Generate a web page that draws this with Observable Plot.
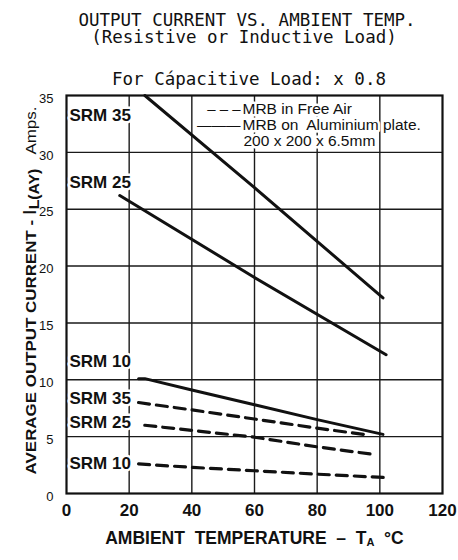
<!DOCTYPE html>
<html><head><meta charset="utf-8">
<script src="https://cdn.jsdelivr.net/npm/d3@7"></script>
<script src="https://cdn.jsdelivr.net/npm/@observablehq/plot@0.6"></script>
<style>
body{margin:0;background:#fff;}
#wrap{position:relative;width:458px;height:560px;overflow:hidden;background:#fff}
#head{position:relative;height:88px}
.t{position:absolute;font-family:"DejaVu Sans Mono",monospace;font-size:17.5px;line-height:16px;white-space:pre;transform:translateX(-50%);color:#111}
svg{display:block}
</style></head><body>
<div id="wrap"><div id="head"></div><div id="chart"></div></div>
<script>
// ---- text ----
const titleLines = ["OUTPUT CURRENT VS. AMBIENT TEMP.", "(Resistive or Inductive Load)", "For Cápacitive Load: x 0.8"];
const xLabel = "AMBIENT  TEMPERATURE  –  TA  °C";
const yLabel = "AVERAGE OUTPUT CURRENT - IL(AY)   Amps.";
const legendSolid = ["MRB on  Aluminium plate.", "200 x 200 x 6.5mm"];
const legendDashed = "MRB in Free Air";

// ---- ticks ----
const xTicks = [0, 20, 40, 60, 80, 100, 120];
const yTicks = [0, 5, 10, 15, 20, 25, 30, 35];

// ---- series (temperature °C, current A) ----
const seriesNames = ["SRM 35", "SRM 25", "SRM 10", "SRM 35", "SRM 25", "SRM 10"];
const seriesMount = ["plate", "plate", "plate", "air", "air", "air"];
const srm35PlateT = [25, 60, 101];
const srm35PlateI = [35, 26.9, 17.2];
const srm25PlateT = [17, 60, 102];
const srm25PlateI = [26.2, 19.0, 12.2];
const srm10PlateT = [23, 25, 40, 60, 80, 101];
const srm10PlateI = [10.1, 10.1, 9.1, 7.8, 6.5, 5.2];
const srm35AirT = [23, 40, 60, 80, 96];
const srm35AirI = [8.0, 7.35, 6.55, 5.75, 5.15];
const srm25AirT = [25, 40, 60, 80, 99];
const srm25AirI = [6.0, 5.55, 4.95, 4.1, 3.4];
const srm10AirT = [23, 40, 60, 80, 102];
const srm10AirI = [2.6, 2.3, 2.0, 1.7, 1.4];

const seriesT = [srm35PlateT, srm25PlateT, srm10PlateT, srm35AirT, srm25AirT, srm10AirT];
const seriesI = [srm35PlateI, srm25PlateI, srm10PlateI, srm35AirI, srm25AirI, srm10AirI];

const rows = seriesT.flatMap((ts, k) => ts.map((t, j) => ({id: k, name: seriesNames[k], mount: seriesMount[k], T: t, I: seriesI[k][j]})));

// label vertical offsets (px) relative to each series' first point
const labelDy = [20, -13, -17, -4, -3, 0];

// ---- title (HTML above the SVG) ----
const head = document.getElementById("head");
const titleCenters = [247, 244, 249];
const titleTops = [12, 29, 71];
titleLines.forEach((s, i) => {
  const d = document.createElement("div");
  d.className = "t";
  d.style.left = titleCenters[i] + "px";
  d.style.top = titleTops[i] + "px";
  d.textContent = s;
  head.appendChild(d);
});

const ink = "#111";
const halo = {stroke: "white", strokeWidth: 5};

const labelMarks = seriesNames.map((n, k) =>
  Plot.text([{I: seriesI[k][0], name: n}], {
    y: "I", text: "name", frameAnchor: "left", textAnchor: "start",
    dx: 3, dy: labelDy[k], fontSize: 17, fontWeight: "bold", fill: ink, ...halo
  })
);

const chart = Plot.plot({
  width: 458, height: 472,
  marginTop: 7, marginBottom: 67, marginLeft: 66, marginRight: 16,
  style: {fontFamily: "'Liberation Sans', Arial, sans-serif", background: "white", color: ink},
  x: {domain: [0, 120], label: null},
  y: {domain: [0, 35], label: null},
  marks: [
    Plot.gridX(xTicks.filter(t => t > 0 && t < 120), {stroke: "#1a1a1a", strokeOpacity: 1, strokeWidth: 1.4}),
    Plot.gridY(yTicks.filter(t => t > 0 && t < 35), {stroke: "#1a1a1a", strokeOpacity: 1, strokeWidth: 1.4}),
    Plot.frame({stroke: ink, strokeWidth: 2.2}),
    Plot.axisX(xTicks, {tickSize: 0, tickPadding: 10, fontSize: 17, fontWeight: "bold", label: null}),
    Plot.axisY(yTicks, {tickSize: 0, tickPadding: 13, fontSize: 13, dy: 3, label: null}),
    // legend (top-right inside frame)
    Plot.text(["– – –"], {frameAnchor: "top-left", dx: 174, dy: 18, lineAnchor: "bottom", textAnchor: "end", fontSize: 15, fill: ink, ...halo}),
    Plot.text(["———"], {frameAnchor: "top-left", dx: 174, dy: 34, lineAnchor: "bottom", textAnchor: "end", fontSize: 14.5, fill: ink, ...halo}),
    Plot.text([legendDashed], {frameAnchor: "top-left", dx: 176, dy: 18, lineAnchor: "bottom", textAnchor: "start", fontSize: 15.5, fill: ink, ...halo}),
    Plot.text([legendSolid[0]], {frameAnchor: "top-left", dx: 176, dy: 34, lineAnchor: "bottom", textAnchor: "start", fontSize: 15.5, fill: ink, ...halo}),
    Plot.text([legendSolid[1]], {frameAnchor: "top-left", dx: 177, dy: 50, lineAnchor: "bottom", textAnchor: "start", fontSize: 15.5, fill: ink, ...halo}),
    ...labelMarks,
    Plot.line(rows.filter(d => d.mount === "plate"), {x: "T", y: "I", z: "id", stroke: ink, strokeWidth: 3, curve: "linear"}),
    Plot.line(rows.filter(d => d.mount === "air"), {x: "T", y: "I", z: "id", stroke: ink, strokeWidth: 3.2, strokeDasharray: "11,7", curve: "linear"}),
    // axis titles
    Plot.text([xLabel], {frameAnchor: "bottom", dy: 50, lineAnchor: "bottom", fontSize: 17.5, fontWeight: "bold", fill: ink}),
    Plot.text([yLabel], {frameAnchor: "left", textAnchor: "middle", dx: -35, dy: -4, rotate: -90, fontSize: 15, fontWeight: "bold", fill: ink})
  ]
});
document.getElementById("chart").appendChild(chart);

// rich text: subscripts in axis titles
const nb = s => s.replace(/ /g, "\u00A0");
d3.select(chart).selectAll("text").each(function() {
  const el = d3.select(this);
  const txt = this.textContent;
  if (txt === xLabel) {
    el.text(null);
    el.append("tspan").text(nb("AMBIENT  TEMPERATURE  –  T"));
    el.append("tspan").attr("font-size", 11).attr("dy", 2).text("A");
    el.append("tspan").attr("dy", -2).text(nb("  °C"));
  } else if (txt === yLabel) {
    el.text(null);
    el.append("tspan").text(nb("AVERAGE OUTPUT CURRENT - "));
    el.append("tspan").attr("font-size", 19).attr("font-weight", "normal").text("I");
    el.append("tspan").attr("font-size", 14).attr("dy", 3).text("L(AY)");
    el.append("tspan").attr("dy", -3).attr("font-weight", "normal").text(nb("   Amps."));
    const len = this.getComputedTextLength();
    const k = len > 0 ? 368 / len : 1;
    const tr = el.attr("transform") || "";
    el.attr("transform", tr + ` scale(${k},1)`);
  }
});
</script>
</body></html>
